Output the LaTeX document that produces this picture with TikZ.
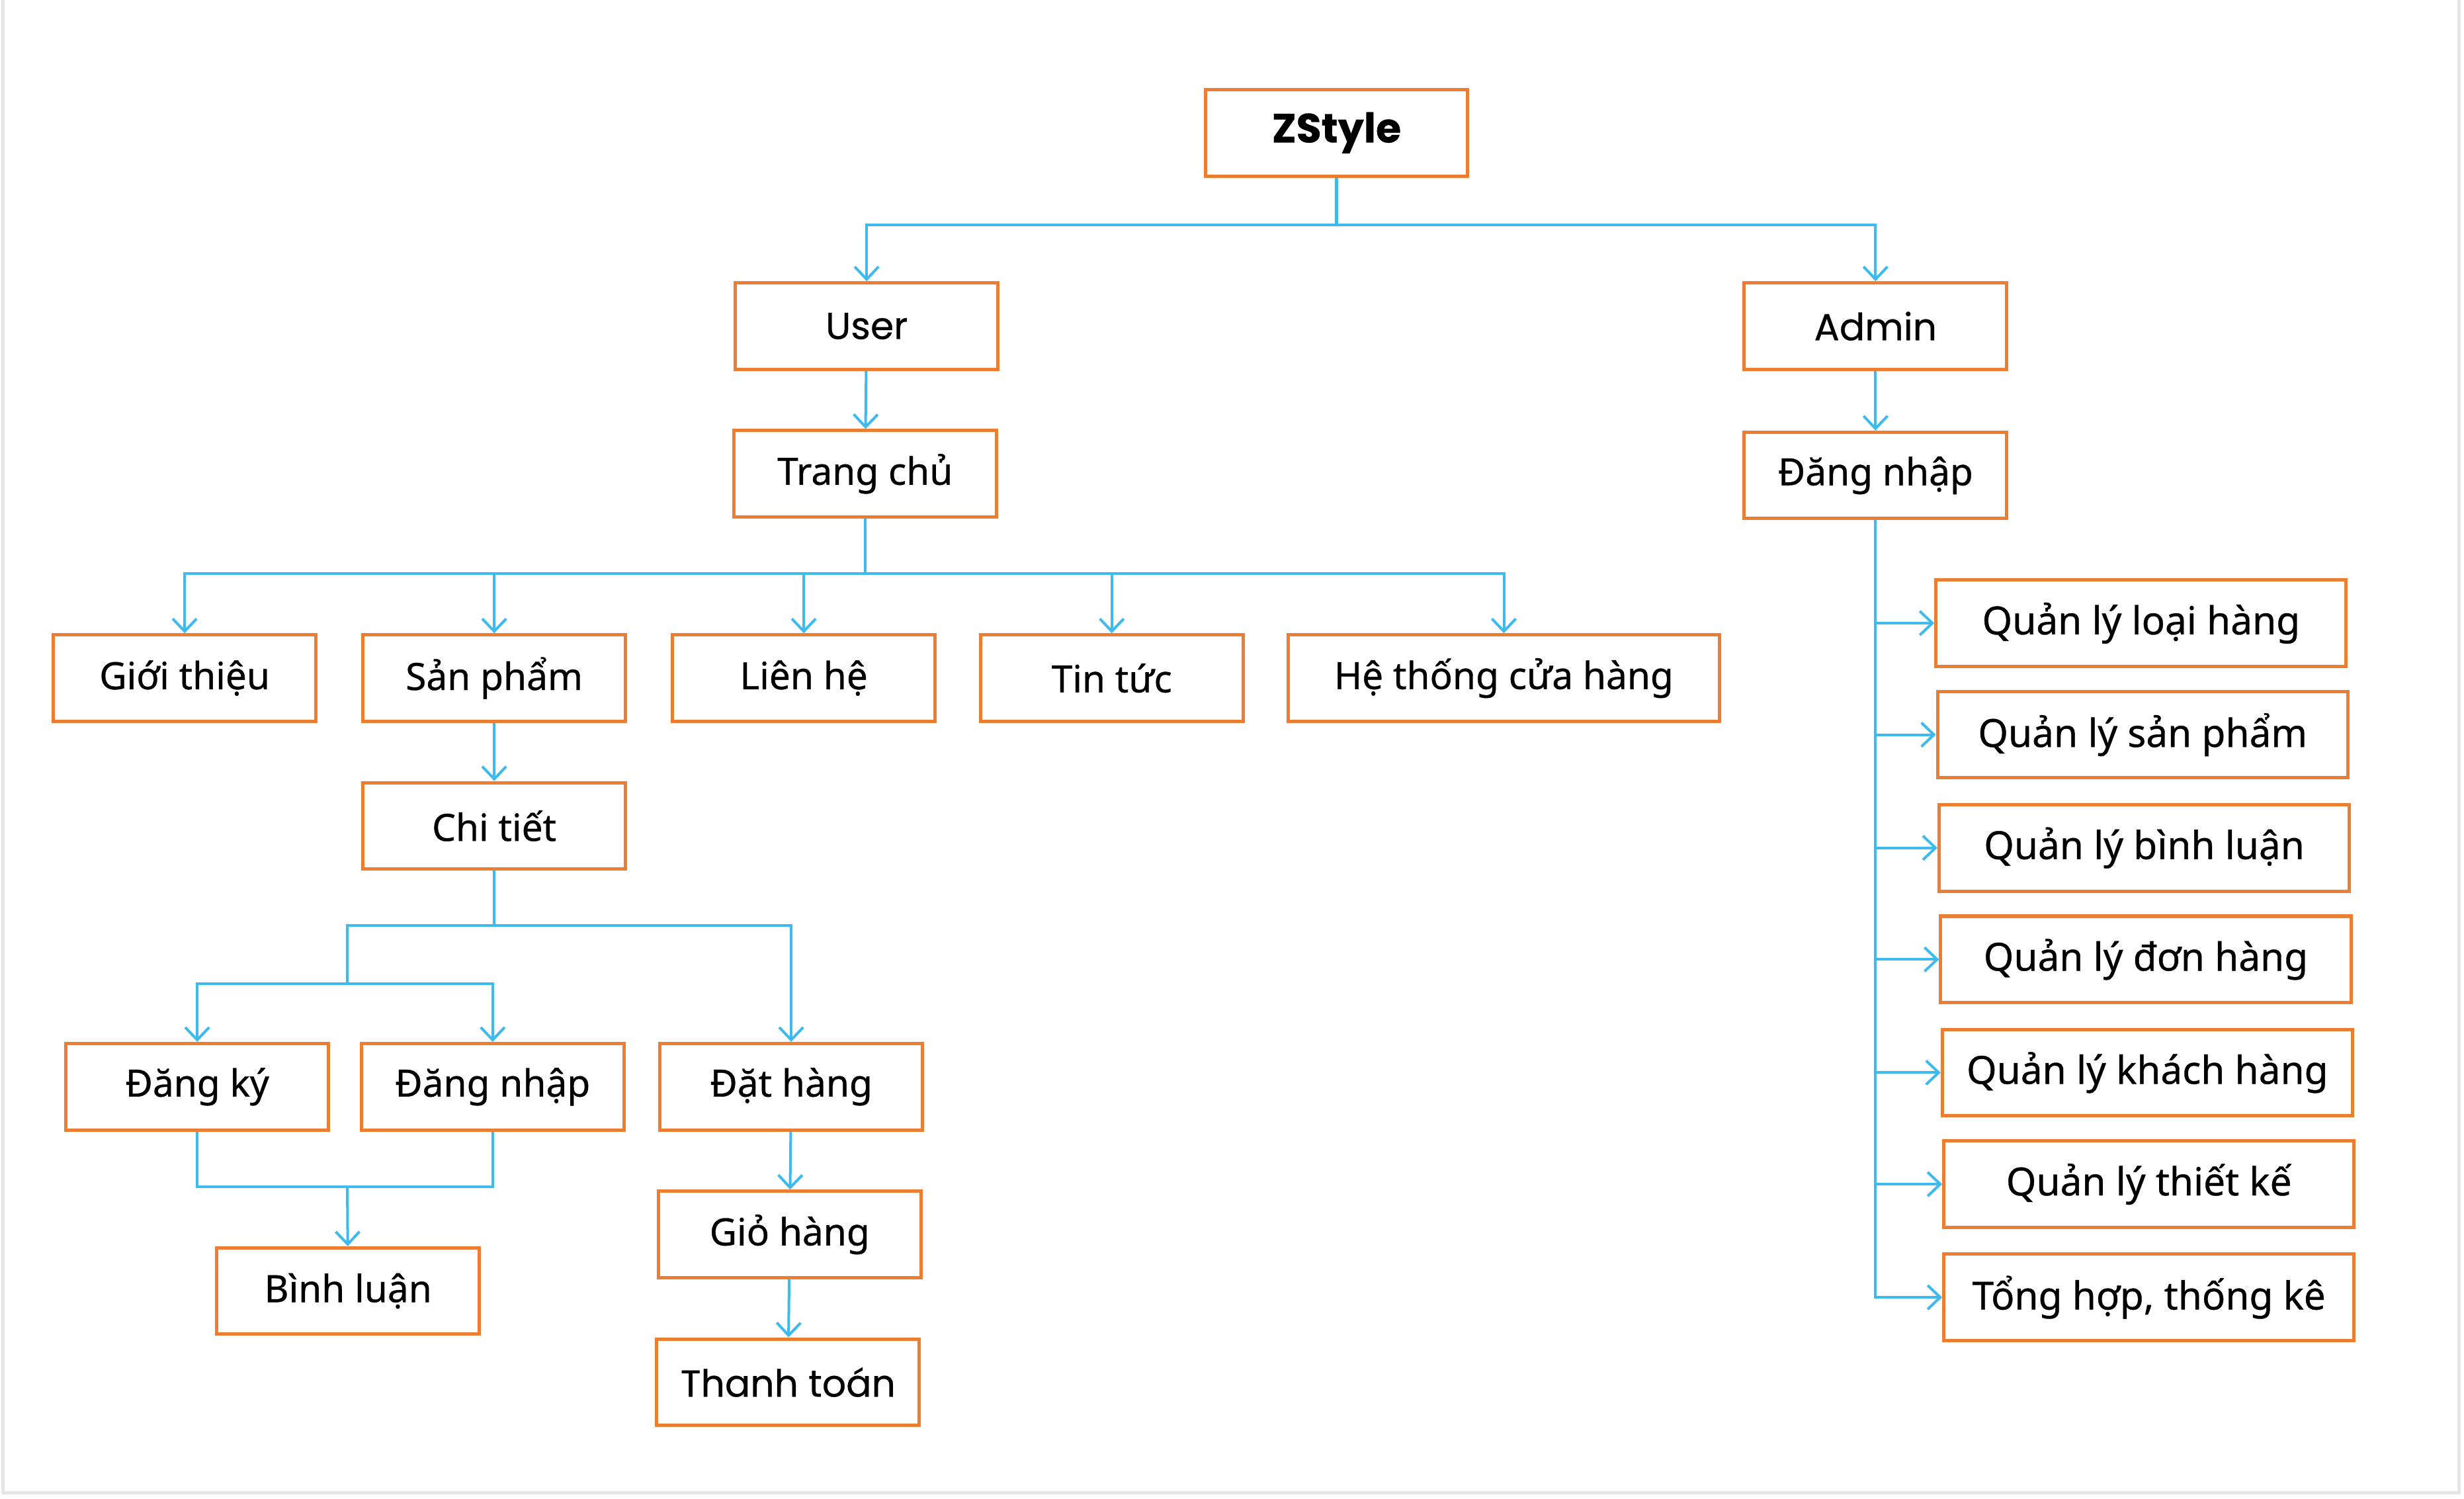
\documentclass[tikz,border=0pt]{standalone}
\usepackage{fontspec}
\setmainfont{Noto Sans}[FakeBold=0.6]
\newfontfamily\popfont{Poppins}[FakeBold=0.5]
\usetikzlibrary{arrows.meta}
\definecolor{boxorange}{RGB}{237,125,49}
\definecolor{lineblue}{RGB}{61,186,238}
\tikzset{
  box/.style={draw=boxorange, line width=1.5pt, minimum width=4.175cm, minimum height=1.375cm, inner sep=0pt, font=\fontsize{17}{20}\selectfont},
  pbox/.style={box, font=\popfont\fontsize{17}{20}\selectfont},
  wbox/.style={box, minimum width=6.525cm, font=\fontsize{17.5}{20}\selectfont},
  link/.style={draw=lineblue, line width=1.2pt},
  arr/.style={link, -{Straight Barb[length=2mm,width=3.8mm]}},
}
\begin{document}
\begin{tikzpicture}[x=0.025cm,y=-0.025cm]
\useasboundingbox[fill=white] (0,0) rectangle (1568,953.8);
\draw[gray!20,line width=1.5pt] (2,0) -- (2,950) -- (1565,950) -- (1565,0);
% top levels
\node (zs) [box,font=\popfont\bfseries\fontsize{18.5}{22}\selectfont] at (850.5,84.5) {ZStyle};
\node (user) [pbox] at (551.5,207.5) {User};
\node (admin) [pbox] at (1193.5,207.5) {Admin};
\node (home) [box] at (550.5,301.5) {Trang chủ};
\node (alogin) [box] at (1193.5,302.5) {Đăng nhập};
% user pages
\node (intro) [box] at (117.5,431.5) {Giới thiệu};
\node (prod) [box] at (314.5,431.5) {Sản phẩm};
\node (contact) [box] at (511.5,431.5) {Liên hệ};
\node (news) [box] at (707.5,431.5) {Tin tức};
\node (stores) [box,minimum width=6.85cm] at (957,431.5) {Hệ thống cửa hàng};
\node (detail) [box] at (314.5,525.5) {Chi tiết};
\node (reg) [box] at (125.5,691.5) {Đăng ký};
\node (login) [box] at (313.5,691.5) {Đăng nhập};
\node (order) [box] at (503.5,691.5) {Đặt hàng};
\node (comment) [box] at (221.5,821.5) {Bình luận};
\node (cart) [box] at (502.5,785.5) {Giỏ hàng};
\node (pay) [pbox] at (501.5,879.5) {Thanh toán};
% admin pages
\node (m1) [wbox] at (1362.5,396.5) {Quản lý loại hàng};
\node (m2) [wbox] at (1363.5,467.5) {Quản lý sản phẩm};
\node (m3) [wbox] at (1364.5,539.5) {Quản lý bình luận};
\node (m4) [wbox] at (1365.5,610.5) {Quản lý đơn hàng};
\node (m5) [wbox] at (1366.5,682.5) {Quản lý khách hàng};
\node (m6) [wbox] at (1367.5,753.5) {Quản lý thiết kế};
\node (m7) [wbox] at (1367.5,825.5) {Tổng hợp, thống kê};
% connectors
\coordinate (busA) at (0,143);
\coordinate (busB) at (0,365);
\coordinate (busC) at (0,589);
\coordinate (split) at (221,626);
\coordinate (join) at (221,755);
\foreach \n in {user,admin}{
 \draw[arr] (zs.south) -- (zs.south |- busA) -| (\n.north);
}
\draw[arr] (user) -- (home);
\draw[arr] (admin) -- (alogin);
\foreach \n in {intro,prod,contact,news,stores}{
 \draw[arr] (home.south) -- (home.south |- busB) -| (\n.north);
}
\draw[arr] (prod) -- (detail);
\draw[link] (detail.south) -- (detail.south |- busC) -| (split);
\draw[arr] (detail.south |- busC) -| (order.north);
\foreach \n in {reg,login}{
 \draw[arr] (split) -| (\n.north);
}
\draw[link] (reg.south) |- (join) -| (login.south);
\draw[arr] (join) -- (comment);
\draw[arr] (order) -- (cart);
\draw[arr] (cart) -- (pay);
\foreach \i in {1,...,7}{
 \draw[arr] (alogin.south) |- (m\i.west);
}
\end{tikzpicture}
\end{document}
